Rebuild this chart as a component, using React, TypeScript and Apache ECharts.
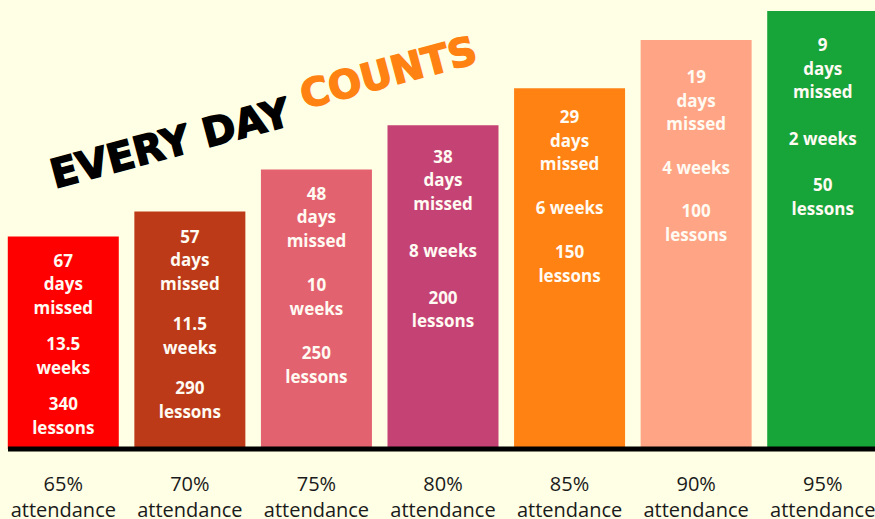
import React, { useEffect, useRef } from 'react';
import * as echarts from 'echarts';

// ---- data ----
const categories = ['65%', '70%', '75%', '80%', '85%', '90%', '95%'];
const tickSuffix = 'attendance';
const daysMissed = [67, 57, 48, 38, 29, 19, 9];
const weeksMissed = [13.5, 11.5, 10, 8, 6, 4, 2];
const lessonsMissed = [340, 290, 250, 200, 150, 100, 50];
const barValues = [212, 237, 279, 323, 360, 408, 437];
const titleLeft = 'EVERY DAY';
const titleRight = 'COUNTS';

// ---- styles ----
const barColors = ['#FF0000', '#BC3A17', '#E36270', '#C54274', '#FF8213', '#FFA585', '#17A53A'];
const labelDistance = [12, 13, 12, 19, 17, 25, 22];
const labelGap = [13, 17, 21, 23.5, 20.5, 20, 23];
const bg = '#FEFFE5';

export default function App() {
  const ref = useRef<HTMLDivElement>(null);
  useEffect(() => {
    document.body.style.margin = '0';
    const chart = echarts.init(ref.current!, null, { renderer: 'svg' });
    const rich: Record<string, any> = {
      t: {
        fontFamily: 'Open Sans',
        fontWeight: 700,
        fontSize: 17,
        lineHeight: 23.5,
        color: '#FFFAF2',
        align: 'center',
      },
    };
    labelGap.forEach((g, i) => {
      rich['g' + i] = { lineHeight: g, fontSize: 4 };
    });
    const data = barValues.map((v, i) => {
      const wk = weeksMissed[i];
      const weekLines = wk >= 10 ? [`${wk}`, 'weeks'] : [`${wk} weeks`];
      const lines = [
        ...[`${daysMissed[i]}`, 'days', 'missed'].map((s) => `{t|${s}}`),
        `{g${i}| }`,
        ...weekLines.map((s) => `{t|${s}}`),
        `{g${i}| }`,
        ...[`${lessonsMissed[i]}`, 'lessons'].map((s) => `{t|${s}}`),
      ];
      return {
        value: v,
        itemStyle: { color: barColors[i] },
        label: {
          show: true,
          position: 'insideTop',
          distance: labelDistance[i],
          formatter: lines.join('\n'),
          rich,
        },
      };
    });
    const rot = (15 * Math.PI) / 180;
    const tickFont = { fontFamily: 'Open Sans', fontSize: 20, color: '#1A1A1A', align: 'center' };
    chart.setOption({
      animation: false,
      backgroundColor: bg,
      grid: { left: 0, top: 0, right: 0, bottom: 70, outerBoundsMode: 'none', containLabel: false },
      xAxis: {
        type: 'category',
        data: categories,
        axisLine: { show: false },
        axisTick: { show: false },
        axisLabel: {
          margin: 18,
          interval: 0,
          fontFamily: 'Open Sans',
          fontSize: 20,
          color: '#1A1A1A',
          formatter: (c: string) => `{p|${c}}\n{a|${tickSuffix}}`,
          rich: {
            p: { ...tickFont, lineHeight: 32 },
            a: { ...tickFont, lineHeight: 20 },
          },
        },
      },
      yAxis: { type: 'value', min: 0, max: 448, show: false, splitLine: { show: false } },
      series: [
        {
          type: 'bar',
          barWidth: 111,
          data,
        },
      ],
      graphic: [
        {
          type: 'line',
          shape: { x1: 8, y1: 449, x2: 886, y2: 449 },
          style: { stroke: '#000', lineWidth: 5 },
          z: 10,
        },
        {
          type: 'text',
          x: 51,
          y: 175,
          rotation: rot,
          style: {
            text: titleLeft,
            fill: '#000',
            stroke: '#000',
            lineWidth: 1.5,
            fontFamily: 'DejaVu Sans',
            fontWeight: 'bold',
            fontSize: 40,
            align: 'left',
            verticalAlign: 'middle',
          },
          z: 10,
        },
        {
          type: 'text',
          x: 301,
          y: 96,
          rotation: rot,
          style: {
            text: titleRight,
            fill: '#FF8213',
            stroke: '#FF8213',
            lineWidth: 1.5,
            fontFamily: 'DejaVu Sans',
            fontWeight: 'bold',
            fontSize: 39,
            align: 'left',
            verticalAlign: 'middle',
          },
          z: 10,
        },
      ],
    });
    return () => chart.dispose();
  }, []);
  return (
    <div
      style={{ position: 'fixed', left: 0, top: 0, width: 875, height: 519, overflow: 'hidden', background: bg }}
    >
      <div ref={ref} style={{ width: 886, height: 519 }} />
    </div>
  );
}
